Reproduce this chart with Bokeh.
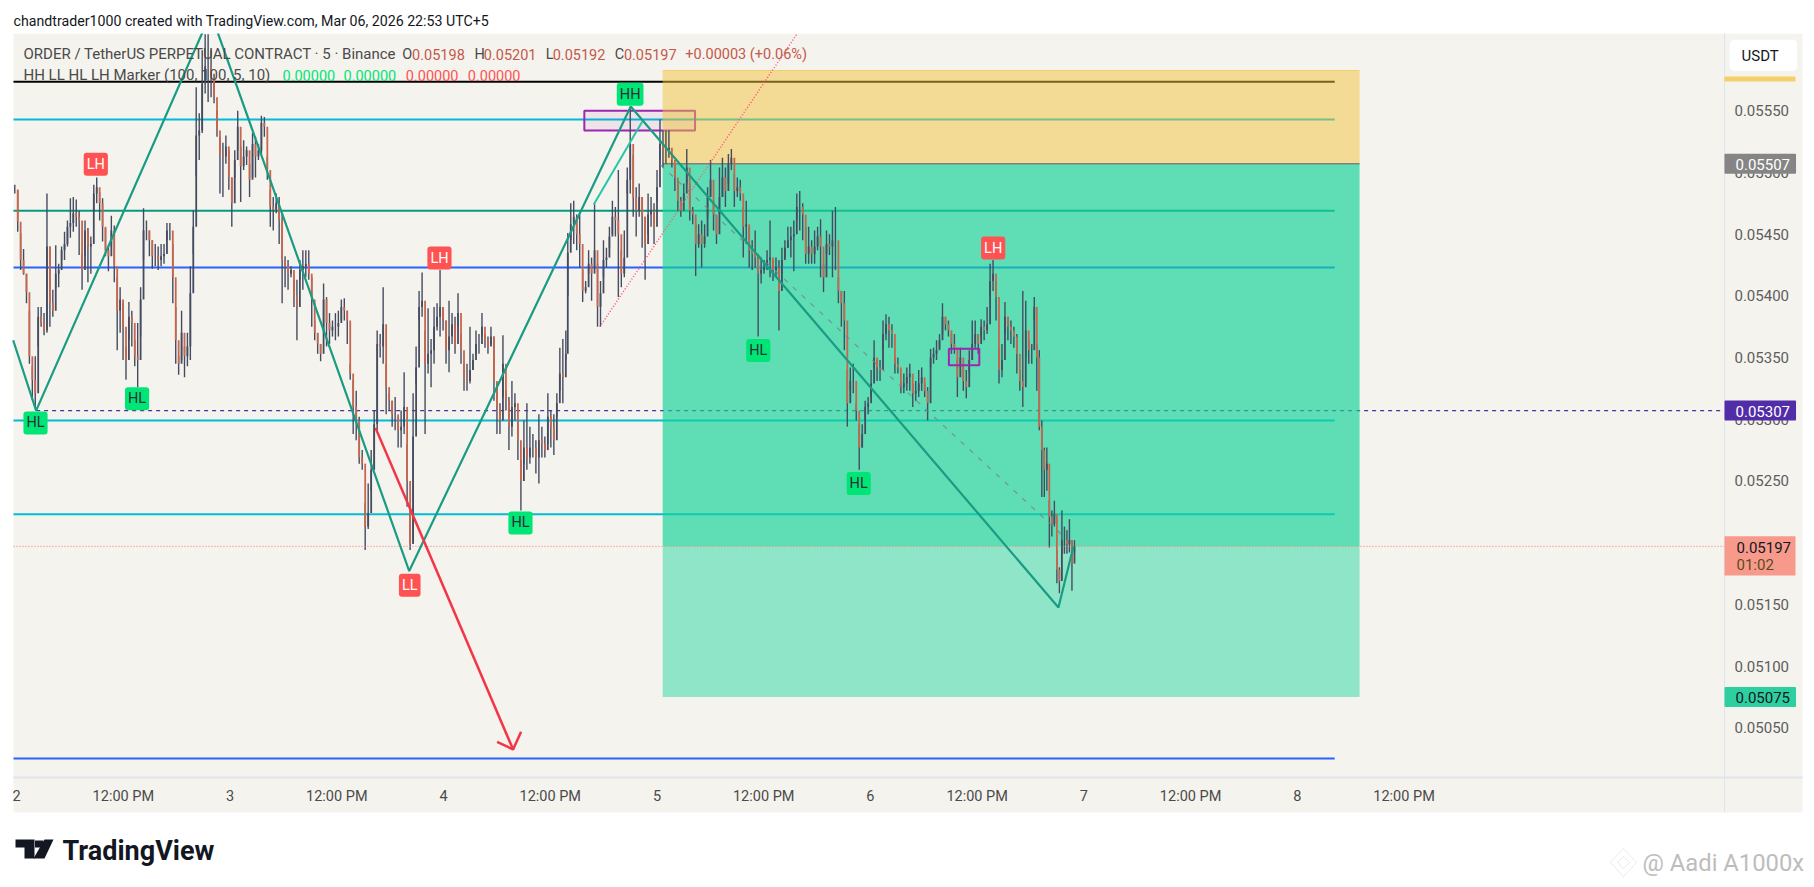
from bokeh.plotting import figure
from bokeh.embed import file_html
from bokeh.resources import INLINE
from bokeh.models import (Range1d, FixedTicker, NumeralTickFormatter, Label, BoxAnnotation, PolyAnnotation, LinearAxis)
import numpy as np

# ---------- data (prices are in units of 0.00001; candles are high, low, close) ----------
candles_1 = [(5490,5483,5486),(5486,5452,5460),(5451,5421,5429),(5438,5417,5418),(5418,5394,5403),(5388,5345,5351),(5343,5316,5332),(5351,5309,5321),(5391,5359,5383),(5391,5375,5378),(5386,5368,5372),(5483,5370,5440),(5440,5375,5394),(5405,5383,5388),(5441,5406,5418),(5426,5407,5421),(5440,5429,5437),(5452,5429,5442),(5461,5440,5456),(5479,5447,5459),(5480,5452,5467),(5478,5456,5464),(5469,5433,5461),(5434,5405,5421),(5461,5432,5453),(5455,5411,5440),(5448,5418,5442),(5490,5469,5483),(5496,5475,5488),(5484,5461,5475),(5479,5444,5456),(5455,5432,5437),(5440,5420,5432),(5465,5440,5453),(5457,5411,5424),(5415,5356,5388),(5407,5370,5397),(5394,5348,5375),(5359,5332,5348),(5395,5364,5383),(5388,5359,5378),(5364,5343,5351),(5378,5326,5348),(5407,5367,5397),(5471,5429,5453),(5461,5445,5453),(5453,5432,5445),(5445,5422,5432),(5442,5424,5432),(5440,5421,5429),(5442,5424,5432),(5442,5426,5434),(5459,5445,5453),(5459,5445,5453),(5442,5394,5415),(5391,5345,5364),(5351,5336,5345),(5388,5348,5370),(5359,5334,5351),(5370,5343,5359),(5424,5348,5402),(5469,5434,5456),(5569,5497,5530)]
candles_2 = [(5548,5510,5534),(5599,5532,5572),(5612,5564,5586),(5612,5557,5586),(5599,5561,5577),(5580,5556,5561),(5550,5529,5534),(5529,5483,5515),(5524,5480,5513),(5530,5507,5521),(5518,5486,5496),(5496,5456,5475),(5518,5496,5510),(5550,5518,5537),(5521,5476,5505),(5526,5502,5513),(5521,5506,5518),(5507,5480,5494),(5532,5496,5523),(5529,5496,5513),(5523,5510,5518),(5546,5515,5540),(5545,5529,5537),(5513,5494,5502),(5486,5456,5472),(5480,5453,5470),(5483,5467,5475),(5480,5442,5461),(5467,5394,5429),(5432,5407,5424),(5429,5405,5418),(5424,5415,5421),(5413,5391,5399),(5413,5364,5391),(5429,5413,5421),(5437,5405,5424),(5437,5415,5426),(5437,5413,5418),(5415,5375,5397),(5380,5364,5370),(5370,5353,5361),(5361,5347,5353),(5410,5370,5397),(5399,5359,5378),(5386,5361,5372),(5380,5367,5375),(5386,5364,5375),(5388,5367,5378),(5397,5380,5391),(5398,5380,5388),(5388,5361,5380),(5345,5332,5337),(5332,5288,5310)]
candles_3 = [(5323,5283,5299),(5302,5264,5269),(5275,5259,5264),(5232,5194,5213),(5248,5211,5224),(5275,5242,5259),(5307,5259,5296),(5372,5291,5361),(5369,5350,5359),(5407,5345,5377),(5345,5304,5326),(5321,5307,5315),(5315,5294,5304),(5318,5291,5304),(5302,5277,5291),(5307,5277,5294),(5338,5288,5310),(5280,5229,5250),(5226,5194,5199),(5321,5199,5286),(5359,5329,5342),(5404,5380,5391),(5419,5383,5396),(5372,5288,5345),(5390,5337,5353),(5365,5326,5356),(5391,5345,5375),(5394,5372,5383),(5421,5367,5391),(5391,5372,5380),(5380,5345,5356),(5396,5338,5367),(5386,5361,5377),(5383,5353,5361),(5402,5375,5386),(5369,5345,5356),(5345,5323,5334),(5345,5323,5331),(5375,5329,5340),(5353,5340,5348),(5372,5353,5361),(5369,5353,5361),(5386,5367,5375),(5369,5358,5364),(5367,5353,5359),(5375,5361,5367),(5367,5315,5331),(5329,5288,5310),(5313,5288,5299),(5368,5318,5345),(5323,5307,5315),(5318,5275,5294),(5331,5286,5310),(5321,5299,5313),(5299,5267,5283),(5267,5226,5250),(5299,5264,5277),(5313,5259,5269),(5294,5264,5277),(5288,5269,5277),(5283,5256,5269),(5304,5248,5283),(5294,5269,5280),(5286,5269,5275),(5321,5280,5302),(5307,5277,5294),(5304,5271,5283),(5321,5302,5313),(5358,5323,5337),(5365,5313,5334),(5372,5348,5353)]
candles_4 = [(5451,5400,5435),(5475,5445,5458),(5477,5442,5464),(5466,5437,5450),(5466,5423,5442),(5421,5395,5404),(5412,5402,5407),(5437,5418,5426),(5431,5396,5418),(5475,5423,5437),(5426,5375,5391),(5412,5375,5402),(5445,5415,5429),(5439,5423,5431),(5456,5439,5448),(5477,5450,5464),(5472,5448,5461),(5502,5399,5450),(5437,5407,5418),(5453,5415,5431),(5504,5483,5494),(5553,5483,5523),(5514,5464,5480),(5488,5448,5469),(5491,5464,5480),(5480,5439,5464),(5464,5413,5442),(5483,5450,5466),(5480,5456,5469),(5475,5442,5456),(5502,5477,5488),(5543,5510,5523),(5534,5504,5518),(5534,5507,5518),(5534,5512,5520),(5515,5504,5510),(5507,5485,5496),(5494,5469,5477),(5480,5464,5469),(5491,5477,5483),(5519,5491,5504),(5491,5461,5469),(5472,5458,5466),(5458,5416,5442),(5458,5439,5450),(5461,5423,5442),(5458,5439,5448),(5488,5464,5480),(5510,5480,5494),(5477,5453,5466),(5464,5442,5450),(5504,5466,5480),(5512,5480,5496),(5504,5472,5485),(5515,5491,5507),(5519,5502,5512),(5499,5472,5485),(5496,5480,5488),(5494,5477,5483),(5472,5431,5456),(5477,5442,5458),(5456,5423,5437),(5445,5421,5434),(5453,5423,5431),(5434,5367,5418),(5431,5410,5421),(5429,5418,5423),(5437,5421,5429),(5461,5415,5431),(5429,5412,5421),(5431,5415,5423),(5429,5372,5404),(5439,5418,5429),(5445,5431,5439),(5456,5439,5445),(5456,5431,5448),(5461,5420,5450),(5483,5461,5472)]
candles_5 = [(5485,5453,5472),(5475,5445,5466),(5456,5426,5434),(5456,5426,5440),(5445,5426,5434),(5453,5426,5440),(5456,5437,5448),(5462,5415,5440),(5426,5403,5415),(5453,5434,5442),(5450,5433,5440),(5469,5415,5445),(5472,5421,5445),(5415,5394,5404),(5404,5375,5394),(5404,5356,5380),(5340,5294,5313),(5342,5323,5331),(5345,5321,5331),(5313,5299,5307),(5296,5259,5277),(5296,5277,5288),(5315,5299,5310),(5318,5304,5313),(5340,5318,5329),(5364,5342,5350),(5348,5331,5342),(5348,5331,5340),(5380,5356,5369),(5385,5364,5377),(5383,5358,5372),(5377,5358,5369),(5350,5337,5345),(5350,5337,5342),(5331,5321,5326),(5337,5321,5329),(5342,5323,5334),(5345,5323,5337),(5329,5310,5321),(5331,5315,5323),(5340,5318,5329),(5342,5323,5334),(5329,5318,5323),(5326,5299,5313),(5357,5342,5350),(5358,5345,5353),(5364,5348,5356),(5369,5358,5364),(5394,5369,5383),(5383,5372,5377),(5380,5367,5372),(5369,5353,5361),(5369,5353,5358),(5348,5318,5334),(5358,5342,5350),(5345,5323,5331),(5340,5317,5326),(5356,5338,5348),(5380,5348,5361),(5380,5358,5369),(5369,5353,5361),(5381,5367,5375),(5380,5364,5372),(5391,5369,5377),(5426,5399,5412),(5429,5404,5418),(5412,5380,5399),(5358,5329,5340),(5361,5334,5348),(5395,5369,5383),(5383,5364,5375),(5380,5361,5372),(5375,5358,5367),(5369,5337,5353),(5340,5323,5331),(5404,5310,5326),(5396,5350,5372),(5364,5345,5356)]
candles_6 = [(5361,5345,5356),(5399,5380,5391),(5361,5323,5350),(5356,5291,5294),(5299,5237,5275),(5277,5237,5259),(5277,5242,5264),(5234,5196,5221),(5226,5205,5215),(5234,5213,5223),(5194,5167,5178),(5180,5159,5169),(5226,5191,5202),(5213,5191,5202),(5210,5191,5199),(5219,5192,5202),(5202,5161,5183),(5202,5192,5197)]
# start and end of each stretch of candles, in hours after Mar 2 00:00
segment_hours = [(-0.21,20.19),(20.53,37.84),(38.18,61.75),(61.97,87.72),(88.05,113.8),(114.14,118.94)]

level_lines = {"black":5573.4,"cyan_a":5543,"teal":5469,"blue_a":5423,"cyan_b":5299,"cyan_c":5223,"blue_b":5025}
entry_price, target_price, stop_top, last_price, avg_price = 5507, 5075, 5582.6, 5197, 5307
zone_hours = (72.64, 151.0)
zigzag_hours = [-0.39,2.19,21.84,44.14,69.05,117.14,118.83]
zigzag_price = [5364,5307,5629,5177,5553.5,5147.4,5197]
short_leg_hours = [64.89,70.33]
short_leg_price = [5474,5541]
dotted_hours = [65.57,87.77]
dotted_price = [5375,5612.6]
dashed_hours = [72.39,117.6]
dashed_price = [5506,5206]
arrow_hours = [40.35,55.82]
arrow_price = [5293,5032.4]
arrow_head_hours = [54.02,55.82,56.72]
arrow_head_price = [5038.6,5032.4,5046.7]
box_a = (63.83,76.28,5550,5534)
box_b = (104.82,108.24,5357.2,5343.7)
marker_text = ["LH","HL","HL","LH","HH","HL","HL","HL","LL","LH"]
marker_hours = [8.9,2.12,13.54,47.54,68.98,83.39,94.68,56.65,44.2,109.8]
marker_price = [5506.7,5297,5316.7,5430.6,5563.4,5355.8,5247.9,5216,5165.5,5438.7]
price_ticks = [5550,5500,5450,5400,5350,5300,5250,5200,5150,5100,5050]
time_labels = {0:"2",12:"12:00 PM",24:"3",36:"12:00 PM",48:"4",60:"12:00 PM",72:"5",84:"12:00 PM",96:"6",108:"12:00 PM",120:"7",132:"12:00 PM",144:"8",156:"12:00 PM"}

S = 1e-5
PANEL, EDGE = "#f5f3ee", "#e0e3eb"
DARK, ORANGE = "#454c60", "#c8654d"
FONT = "Roboto"
H_LEFT, H_AXIS, H_RIGHT = -0.354, 192.03, 200.8      # chart panel and price axis position, hours
P_TOP, P_AXIS, P_BOTTOM = 0.056126, 0.050097, 0.049813  # panel top, time axis, panel bottom, price

p = figure(width=1810, height=880, output_backend="svg", toolbar_location=None,
           x_range=Range1d(-1.8157, 201.70), y_range=Range1d(0.049262, 0.0563934),
           x_axis_location=None, y_axis_location=None, min_border=0,
           background_fill_color="white", border_fill_color="white", outline_line_color=None)
p.grid.visible = False

# chart panel
p.quad(left=H_LEFT,right=H_RIGHT,top=P_TOP,bottom=P_BOTTOM,fill_color=PANEL,line_color=None)

ya = LinearAxis(fixed_location=H_AXIS, bounds=(P_BOTTOM,P_TOP))
ya.ticker = FixedTicker(ticks=[t*S for t in price_ticks])
ya.formatter = NumeralTickFormatter(format="0.00000")
ya.major_tick_line_color = None
ya.minor_tick_line_color = None
ya.axis_line_color = EDGE
ya.major_label_text_font = FONT
ya.major_label_text_font_size = "15px"
ya.major_label_text_color = "#5d5d5d"
ya.major_label_standoff = 4
p.add_layout(ya,"right")
xa = LinearAxis(fixed_location=P_AXIS, bounds=(H_LEFT,H_RIGHT))
xa.ticker = FixedTicker(ticks=list(time_labels))
xa.major_label_overrides = time_labels
xa.major_tick_line_color = None
xa.minor_tick_line_color = None
xa.axis_line_color = EDGE
xa.axis_line_width = 2
xa.major_label_text_font = FONT
xa.major_label_text_font_size = "14.5px"
xa.major_label_text_color = "#4a4a4a"
xa.major_label_standoff = 5
p.add_layout(xa,"below")

# levels under the zones
x0, x1 = H_LEFT, 148.2
for name, val in level_lines.items():
    c = {"black":"#000000","cyan_a":"#00bcd4","cyan_b":"#00bcd4","cyan_c":"#00bcd4","teal":"#089981","blue_a":"#2962ff","blue_b":"#2962ff"}[name]
    p.line([x0,x1],[val*S,val*S],line_color=c,line_width=2)
p.line([2.19,H_AXIS],[avg_price*S,avg_price*S],line_color="#512da8",line_width=1.3,line_dash="4 4")
p.quad(left=box_a[0],right=box_a[1],top=box_a[2]*S,bottom=box_a[3]*S,fill_color="#9c27b0",fill_alpha=0.08,line_color="#9c27b0",line_width=2)
# zones
ZG = "#14d499"
p.quad(left=zone_hours[0],right=zone_hours[1],top=stop_top*S,bottom=entry_price*S,fill_color="#f1c13c",fill_alpha=0.5,line_color=None)
p.quad(left=zone_hours[0],right=zone_hours[1],top=entry_price*S,bottom=last_price*S,fill_color=ZG,fill_alpha=0.667,line_color=None)
p.quad(left=zone_hours[0],right=zone_hours[1],top=last_price*S,bottom=target_price*S,fill_color=ZG,fill_alpha=0.45,line_color=None)
p.line(list(zone_hours),[entry_price*S,entry_price*S],line_color="#808080",line_width=1.5)
p.line(list(zone_hours),[stop_top*S,stop_top*S],line_color="#f5cf68",line_width=1)

# candles
xs,hi,lo,op,cl = [],[],[],[],[]
prev=None
for seg,(a,b) in zip([candles_1,candles_2,candles_3,candles_4,candles_5,candles_6],segment_hours):
    for t,(h_,l_,c_) in zip(np.linspace(a,b,len(seg)),seg):
        xs.append(float(t));hi.append(h_*S);lo.append(l_*S);cl.append(c_*S)
        op.append((prev if prev is not None else c_)*S);prev=c_
p.segment(xs,hi,xs,lo,line_color=DARK,line_width=1.4)
colors=[ORANGE if c<o else DARK for o,c in zip(op,cl)]
p.segment(xs,op,xs,cl,line_color=colors,line_width=1.8)

# overlays
p.line([x0,H_AXIS],[last_price*S,last_price*S],line_color="#f7766a",line_width=1,line_dash="1 2")
p.line(dashed_hours,[v*S for v in dashed_price],line_color="#7f7f86",line_alpha=0.8,line_width=1.2,line_dash="5 7")
p.line(dotted_hours,[v*S for v in dotted_price],line_color="#ff4f7a",line_width=1.5,line_dash="1 2")
p.line(short_leg_hours,[v*S for v in short_leg_price],line_color="#26c6a6",line_width=2)
p.line(zigzag_hours,[v*S for v in zigzag_price],line_color="#1a9c82",line_width=2.2)
p.line(arrow_hours,[v*S for v in arrow_price],line_color="#f23645",line_width=2.5)
p.line(arrow_head_hours,[v*S for v in arrow_head_price],line_color="#f23645",line_width=2.5)
p.quad(left=box_b[0],right=box_b[1],top=box_b[2]*S,bottom=box_b[3]*S,fill_color="#9c27b0",fill_alpha=0.05,line_color="#9c27b0",line_width=2)
# mask above the panel: lines stop at its top edge
p.quad(left=-1.8157,right=201.7,top=0.0563934,bottom=P_TOP,fill_color="white",line_color=None)

# pattern markers
for t,hh,pr in zip(marker_text,marker_hours,marker_price):
    red = t in ("LH","LL")
    p.add_layout(Label(x=hh,y=pr*S,text=t,text_align="center",text_baseline="middle",text_font=FONT,text_font_size="14.5px",
                 text_color="#ffffff" if red else "#2a2e39",background_fill_color="#ff5252" if red else "#00e676",
                 padding=(3,3),border_radius=3))

def txt(x,y,s,color="#4a4a4a",size="14.5px",align="left",bold=False,**kw):
    p.add_layout(Label(x=x,y=y,x_units="canvas",y_units="canvas",text=s,text_color=color,text_font=FONT,text_font_size=size,
                 text_align=align,text_baseline="middle",text_font_style="bold" if bold else "normal",**kw))

txt(13,20,"chandtrader1000 created with TradingView.com, Mar 06, 2026 22:53 UTC+5","#131722","14.2px")
txt(23,53.7,"ORDER / TetherUS PERPETUAL CONTRACT · 5 · Binance",size="15px")
V="#c4584a"
for lx,l,vx,v in [(401.8,"O",411.6,"0.05198"),(474,"H",483.3,"0.05201"),(545.3,"L",552.2,"0.05192"),(614.2,"C",623.4,"0.05197")]:
    txt(lx,53.7,l); txt(vx,53.7,v,V)
txt(684.8,53.7,"+0.00003 (+0.06%)",V)
txt(23,74.7,"HH LL HL LH Marker (100, 100, 5, 10)",size="15px")
for vx,c in [(282,"#00e676"),(343,"#00e676"),(405.3,"#ff5252"),(467.3,"#ff5252")]:
    txt(vx,74.7,"0.00000",c)

# right side tags
def tag(price,s,bg,fg,pad=(11,6,5,4)):
    p.add_layout(Label(x=1724,y=price*S,x_units="canvas",y_units="data",text=s,text_color=fg,text_font=FONT,text_font_size="15px",
                 text_align="left",text_baseline="middle",background_fill_color=bg,padding=pad,border_radius=1))
tag(entry_price,"0.05507","#858585","#ffffff")
tag(avg_price,"0.05307","#512da8","#ffffff")
tag(target_price,"0.05075","#2dcfa0","#131722")
# last price tag with countdown
def box(l,r,t,b,fill,line=None,**kw):
    p.add_layout(BoxAnnotation(left=l,right=r,top=t,bottom=b,left_units="canvas",right_units="canvas",top_units="canvas",bottom_units="canvas",
             fill_color=fill,fill_alpha=1,line_color=line,**kw))
box(1724,1795,535.7,575,"#f79a8c")
txt(1736,546.5,"0.05197","#131722","15px")
txt(1736,564,"01:02","#5a4a20","15px")
# currency box and stop marker
box(1729,1797,39,70.7,"#ffffff","#eeeeee",border_radius=5)
txt(1741,55,"USDT","#131722","15px")
box(1724,1795,76,81,"#f5cf68")

# footer logo and name
def poly(xs_,ys_,fill,line=None):
    p.add_layout(PolyAnnotation(xs=xs_,ys=ys_,xs_units="canvas",ys_units="canvas",fill_color=fill,fill_alpha=1,line_color=line))
poly([15,34,34,24,24,15],[839,839,858,858,847,847],"#131722")
poly([44,53,44,33],[839,839,858,858],"#131722")
poly([34.5,43,43,34.5],[840,840,847,847],"#131722")
txt(62,850,"TradingView","#131722","27px",bold=True)
# watermark
poly([1623,1636,1623,1610],[848,862,876,862],"#ffffff","#b8b8b8")
poly([1623,1629,1623,1617],[856,862,868,862],"#ffffff","#b8b8b8")
txt(1642,862,"@ Aadi A1000x","#bdbdbd","23.8px")

open("out.html","w").write(file_html(p,INLINE))
